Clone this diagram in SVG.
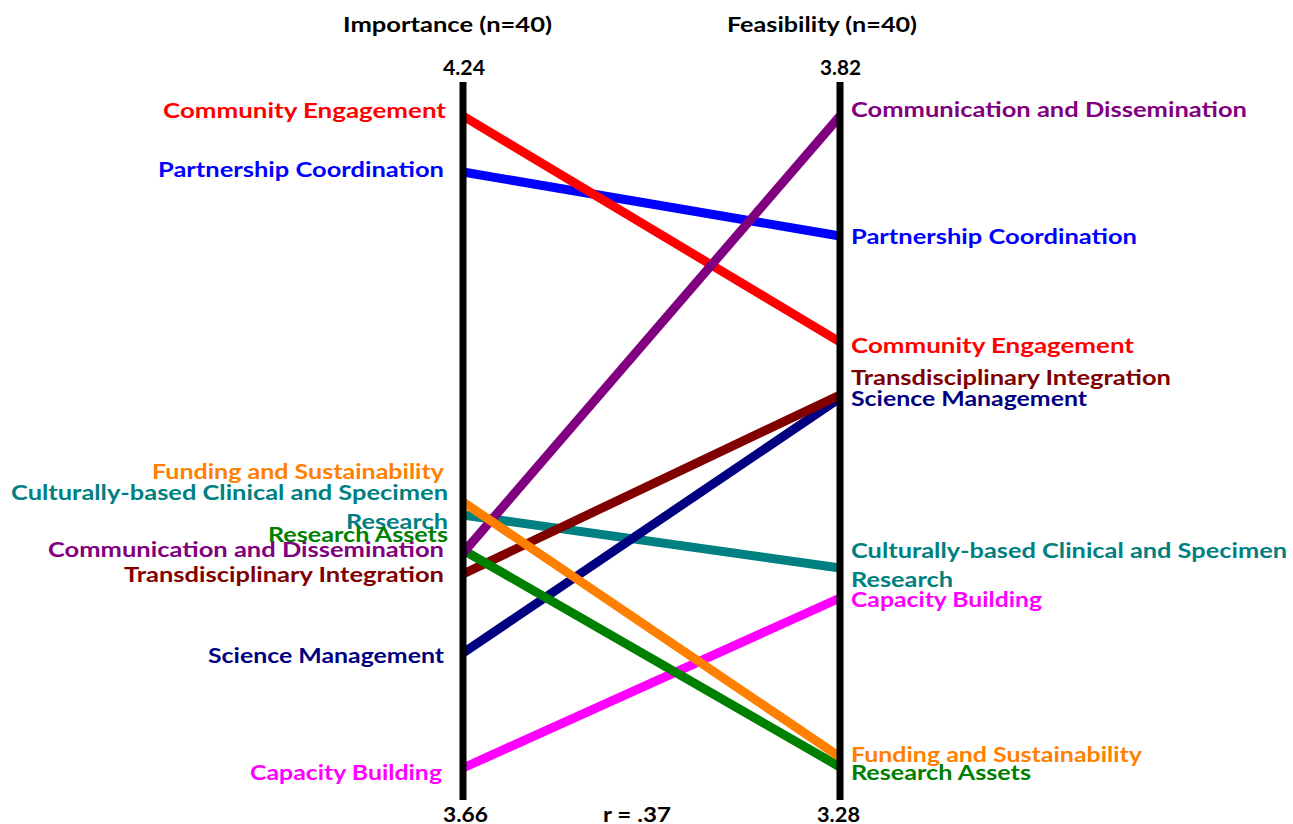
<svg xmlns="http://www.w3.org/2000/svg" width="1293" height="824" viewBox="0 0 1293 824">
<style>
text{font-family:Lato,"Open Sans","Liberation Sans",sans-serif;font-weight:bold;font-size:21px}
.hd{fill:#000}
.ln{fill:none;stroke-width:9;stroke-linecap:butt}
.ax{stroke:#000;stroke-width:7}
</style>
<rect width="1293" height="824" fill="#fff"/>
<g id="connectors">
<line class="ln" x1="463" y1="768" x2="840" y2="598" stroke="#FF00FF"/>
<line class="ln" x1="463" y1="515" x2="840" y2="568" stroke="#008080"/>
<line class="ln" x1="463" y1="653" x2="840" y2="398" stroke="#000080"/>
<line class="ln" x1="463" y1="574" x2="840" y2="395" stroke="#800000"/>
<line class="ln" x1="463" y1="550" x2="840" y2="767" stroke="#008000"/>
<line class="ln" x1="463" y1="172" x2="840" y2="236" stroke="#0000FF"/>
<line class="ln" x1="463" y1="116" x2="840" y2="342" stroke="#FF0000"/>
<line class="ln" x1="463" y1="553" x2="840" y2="116" stroke="#800080"/>
<line class="ln" x1="463" y1="502" x2="840" y2="757" stroke="#FF8000"/>
</g>
<g id="axis-importance">
<line class="ax" x1="463" y1="82" x2="463" y2="800"/>
<text class="hd" x="343" y="32" textLength="209" lengthAdjust="spacingAndGlyphs">Importance (n=40)</text>
<text class="hd" x="443" y="75" textLength="42" lengthAdjust="spacingAndGlyphs">4.24</text>
<text class="hd" x="443" y="822" textLength="45" lengthAdjust="spacingAndGlyphs">3.66</text>
</g>
<g id="axis-feasibility">
<line class="ax" x1="840" y1="82" x2="840" y2="800"/>
<text class="hd" x="727" y="32" textLength="190" lengthAdjust="spacingAndGlyphs">Feasibility (n=40)</text>
<text class="hd" x="820" y="75" textLength="41" lengthAdjust="spacingAndGlyphs">3.82</text>
<text class="hd" x="817" y="822" textLength="43" lengthAdjust="spacingAndGlyphs">3.28</text>
</g>
<g id="correlation">
<text class="hd" x="603" y="822" textLength="68" lengthAdjust="spacingAndGlyphs">r = .37</text>
</g>
<g id="community-engagement" fill="#FF0000">
<text x="163" y="118" textLength="283" lengthAdjust="spacingAndGlyphs">Community Engagement</text>
<text x="851" y="353" textLength="283" lengthAdjust="spacingAndGlyphs">Community Engagement</text>
</g>
<g id="partnership-coordination" fill="#0000FF">
<text x="158" y="177" textLength="286" lengthAdjust="spacingAndGlyphs">Partnership Coordination</text>
<text x="851" y="244" textLength="286" lengthAdjust="spacingAndGlyphs">Partnership Coordination</text>
</g>
<g id="communication-dissemination" fill="#800080">
<text x="48" y="557" textLength="396" lengthAdjust="spacingAndGlyphs">Communication and Dissemination</text>
<text x="851" y="117" textLength="396" lengthAdjust="spacingAndGlyphs">Communication and Dissemination</text>
</g>
<g id="transdisciplinary-integration" fill="#800000">
<text x="124" y="582" textLength="320" lengthAdjust="spacingAndGlyphs">Transdisciplinary Integration</text>
<text x="851" y="385" textLength="320" lengthAdjust="spacingAndGlyphs">Transdisciplinary Integration</text>
</g>
<g id="science-management" fill="#000080">
<text x="208" y="663" textLength="236" lengthAdjust="spacingAndGlyphs">Science Management</text>
<text x="851" y="406" textLength="236" lengthAdjust="spacingAndGlyphs">Science Management</text>
</g>
<g id="funding-sustainability" fill="#FF8000">
<text x="152" y="479" textLength="292" lengthAdjust="spacingAndGlyphs">Funding and Sustainability</text>
<text x="851" y="762" textLength="291" lengthAdjust="spacingAndGlyphs">Funding and Sustainability</text>
</g>
<g id="culturally-based-research" fill="#008080">
<text x="11" y="500" textLength="437" lengthAdjust="spacingAndGlyphs">Culturally-based Clinical and Specimen</text>
<text x="346" y="529" textLength="102" lengthAdjust="spacingAndGlyphs">Research</text>
<text x="851" y="558" textLength="436" lengthAdjust="spacingAndGlyphs">Culturally-based Clinical and Specimen</text>
<text x="851" y="587" textLength="102" lengthAdjust="spacingAndGlyphs">Research</text>
</g>
<g id="research-assets" fill="#008000">
<text x="268" y="542" textLength="180" lengthAdjust="spacingAndGlyphs">Research Assets</text>
<text x="851" y="780" textLength="180" lengthAdjust="spacingAndGlyphs">Research Assets</text>
</g>
<g id="capacity-building" fill="#FF00FF">
<text x="250" y="780" textLength="192" lengthAdjust="spacingAndGlyphs">Capacity Building</text>
<text x="851" y="607" textLength="191" lengthAdjust="spacingAndGlyphs">Capacity Building</text>
</g>
</svg>
